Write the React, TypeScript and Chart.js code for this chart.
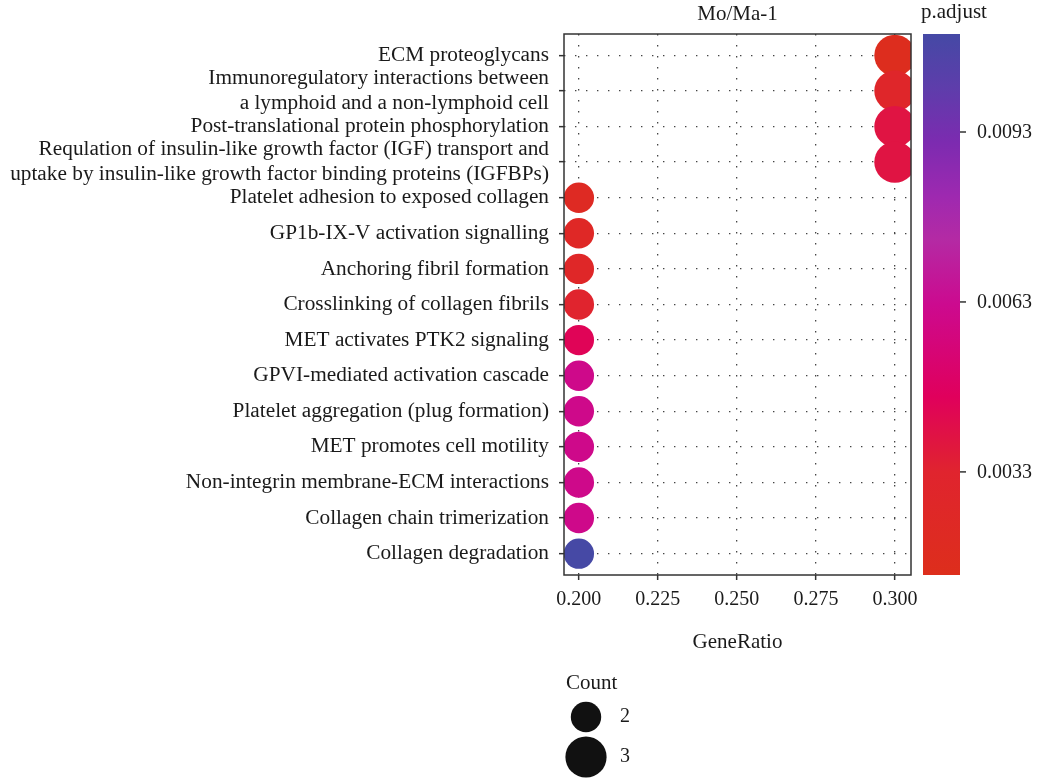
import { useEffect, useRef } from "react";
import { Chart, registerables } from "chart.js";

Chart.register(...registerables);

// Enriched pathways, top to bottom ("\n" marks a wrapped label)
const pathways: string[] = [
  "ECM proteoglycans",
  "Immunoregulatory interactions between\na lymphoid and a non-lymphoid cell",
  "Post-translational protein phosphorylation",
  "Requlation of insulin-like growth factor (IGF) transport and\nuptake by insulin-like growth factor binding proteins (IGFBPs)",
  "Platelet adhesion to exposed collagen",
  "GP1b-IX-V activation signalling",
  "Anchoring fibril formation",
  "Crosslinking of collagen fibrils",
  "MET activates PTK2 signaling",
  "GPVI-mediated activation cascade",
  "Platelet aggregation (plug formation)",
  "MET promotes cell motility",
  "Non-integrin membrane-ECM interactions",
  "Collagen chain trimerization",
  "Collagen degradation",
];

const geneRatio: number[] = [0.3, 0.3, 0.3, 0.3, 0.2, 0.2, 0.2, 0.2, 0.2, 0.2, 0.2, 0.2, 0.2, 0.2, 0.2];
const geneCount: number[] = [3, 3, 3, 3, 2, 2, 2, 2, 2, 2, 2, 2, 2, 2, 2];
const pAdjust: number[] = [
  0.0017, 0.0029, 0.0039, 0.0039, 0.0022, 0.0025, 0.0027, 0.0033, 0.0045,
  0.0061, 0.0061, 0.0061, 0.0061, 0.0061, 0.011,
];

const xTicks: number[] = [0.2, 0.225, 0.25, 0.275, 0.3];
const pTicks: number[] = [0.0033, 0.0063, 0.0093];
const pRange: [number, number] = [0.00148, 0.01103];
const countLegend: number[] = [2, 3];

// colour ramp for p.adjust, from low (0) to high (1)
const rampStops: [number, string][] = [
  [0, "#DD2E1C"],
  [0.19, "#E0242E"],
  [0.33, "#E0005C"],
  [0.5, "#CC0A8F"],
  [0.62, "#B42AA4"],
  [0.7, "#9E29B0"],
  [0.8, "#7C2BB0"],
  [0.9, "#5E3DAB"],
  [1, "#4549A5"],
];

const FONT = "'Liberation Serif', 'Times New Roman', serif";
const INK = "#1a1a1a";

function hexRgb(h: string): number[] {
  const n = parseInt(h.slice(1), 16);
  return [(n >> 16) & 255, (n >> 8) & 255, n & 255];
}

function rampColor(p: number): string {
  const t = Math.min(1, Math.max(0, (p - pRange[0]) / (pRange[1] - pRange[0])));
  for (let i = 1; i < rampStops.length; i++) {
    const [t1, c1] = rampStops[i];
    const [t0, c0] = rampStops[i - 1];
    if (t <= t1) {
      const f = (t - t0) / (t1 - t0);
      const a = hexRgb(c0);
      const b = hexRgb(c1);
      const m = a.map((v, k) => Math.round(v + (b[k] - v) * f));
      return `rgb(${m[0]},${m[1]},${m[2]})`;
    }
  }
  return rampStops[rampStops.length - 1][1];
}

function radiusFor(count: number): number {
  return 15.2 + (count - 2) * 5.4;
}

const decorations = {
  id: "decorations",
  afterDatasetsDraw(chart: any) {
    const { ctx, chartArea: a } = chart;
    ctx.save();
    ctx.strokeStyle = "#333";
    ctx.lineWidth = 1.5;
    ctx.strokeRect(a.left, a.top, a.right - a.left, a.bottom - a.top);
    ctx.restore();
  },
  afterDraw(chart: any) {
    const { ctx, chartArea: a } = chart;
    const cx = (a.left + a.right) / 2;
    ctx.save();
    ctx.fillStyle = INK;
    ctx.textBaseline = "middle";

    // panel title and axis title
    ctx.font = `21px ${FONT}`;
    ctx.textAlign = "center";
    ctx.fillText("Mo/Ma-1", cx, 14);
    ctx.fillText("GeneRatio", cx, 642);

    // p.adjust colour bar
    const barL = 923;
    const barR = 960;
    const barT = a.top;
    const barB = a.bottom;
    const grad = ctx.createLinearGradient(0, barB, 0, barT);
    rampStops.forEach(([t, c]) => grad.addColorStop(t, c));
    ctx.fillStyle = grad;
    ctx.fillRect(barL, barT, barR - barL, barB - barT);

    ctx.fillStyle = INK;
    ctx.textAlign = "left";
    ctx.font = `21px ${FONT}`;
    ctx.fillText("p.adjust", 921, 12);

    ctx.font = `20px ${FONT}`;
    ctx.strokeStyle = "#333";
    ctx.lineWidth = 1.5;
    pTicks.forEach((p) => {
      const y = barB - ((p - pRange[0]) / (pRange[1] - pRange[0])) * (barB - barT);
      ctx.beginPath();
      ctx.moveTo(barR, y);
      ctx.lineTo(barR + 6, y);
      ctx.stroke();
      ctx.fillText(p.toFixed(4), 977, y + 1);
    });

    // Count size legend
    ctx.font = `21px ${FONT}`;
    ctx.fillText("Count", 566, 683);
    const rowY = [717, 757];
    countLegend.forEach((c, i) => {
      ctx.fillStyle = "#111";
      ctx.beginPath();
      ctx.arc(586, rowY[i], radiusFor(c), 0, Math.PI * 2);
      ctx.fill();
      ctx.fillStyle = INK;
      ctx.font = `20px ${FONT}`;
      ctx.fillText(String(c), 620, rowY[i]);
    });
    ctx.restore();
  },
};

export default function App() {
  const ref = useRef<HTMLCanvasElement>(null);

  useEffect(() => {
    if (!ref.current) return;
    const points = pathways.map((_, i) => ({
      x: geneRatio[i],
      y: i,
      r: radiusFor(geneCount[i]),
    }));

    const chart = new Chart(ref.current, {
      type: "bubble",
      data: {
        datasets: [
          {
            data: points,
            backgroundColor: pAdjust.map(rampColor),
            borderWidth: 0,
            hoverBorderWidth: 0,
            clip: 0,
          } as any,
        ],
      },
      options: {
        responsive: false,
        animation: false,
        layout: { padding: { left: 0, right: 129, top: 34, bottom: 105 } },
        plugins: {
          legend: { display: false },
          tooltip: { enabled: false },
          title: { display: false },
        },
        scales: {
          x: {
            type: "linear",
            min: 0.1953,
            max: 0.3051,
            afterBuildTicks: (s: any) => {
              s.ticks = xTicks.map((v) => ({ value: v }));
            },
            afterFit: (s: any) => {
              s.height = 100;
            },
            ticks: {
              autoSkip: false,
              maxRotation: 0,
              padding: 8,
              color: INK,
              font: { family: FONT, size: 20 },
              callback: (v: any) => Number(v).toFixed(3),
            },
            grid: {
              color: "#444",
              lineWidth: 1.3,
              tickColor: "#333",
              tickWidth: 1.5,
              tickLength: 5,
            },
            border: { display: false, dash: [1.4, 9.6] },
          },
          y: {
            type: "linear",
            reverse: true,
            min: -0.6,
            max: 14.6,
            afterBuildTicks: (s: any) => {
              s.ticks = pathways.map((_, i) => ({ value: i }));
            },
            afterFit: (s: any) => {
              s.width = 564;
            },
            ticks: {
              autoSkip: false,
              padding: 10,
              color: INK,
              font: { family: FONT, size: 21.3, lineHeight: 1.17 },
              callback: (v: any) => {
                const lab = pathways[Math.round(Number(v))] ?? "";
                return lab.includes("\n") ? lab.split("\n") : lab;
              },
            },
            grid: {
              color: "#444",
              lineWidth: 1.3,
              tickColor: "#333",
              tickWidth: 1.5,
              tickLength: 5,
            },
            border: { display: false, dash: [1.4, 9.6] },
          },
        },
      },
      plugins: [decorations],
    });

    return () => chart.destroy();
  }, []);

  return (
    <div style={{ position: "absolute", left: 0, top: 0, width: 1040, height: 780, background: "#fff" }}>
      <canvas ref={ref} width={1040} height={780} />
    </div>
  );
}
